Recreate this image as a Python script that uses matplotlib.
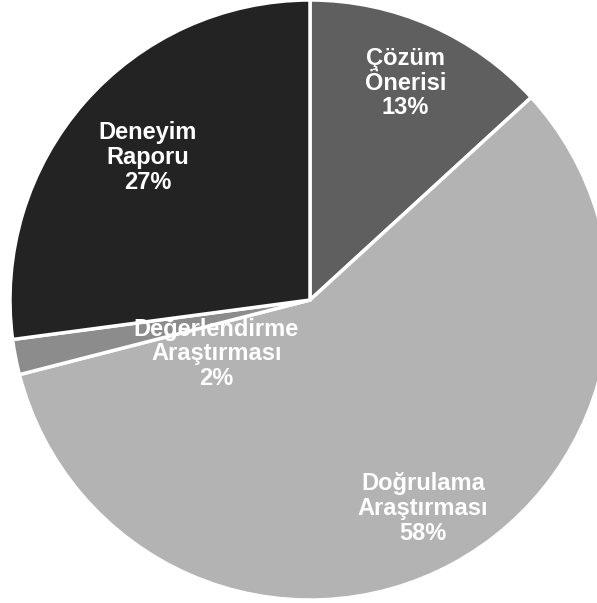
import numpy as np
import matplotlib
matplotlib.use("Agg")
import matplotlib.pyplot as plt

labels = ["Çözüm\nÖnerisi", "Doğrulama\nAraştırması", "Değerlendirme\nAraştırması", "Deneyim\nRaporu"]
values = [13.2, 57.8, 1.9, 27.1]
pct_labels = ["13%", "58%", "2%", "27%"]
colors = ["#5f5f5f", "#b3b3b3", "#8c8c8c", "#232323"]
label_r = [0.79, 0.79, 0.36, 0.72]
label_shift = [0, 0, 19, 0]  # degrees, nudge for small slice

fig = plt.figure(figsize=(5.97, 6.03), dpi=100)
ax = fig.add_axes([10 / 597, 3 / 603, 600 / 597, 600 / 603])
wedges, _ = ax.pie(values, colors=colors, startangle=90, counterclock=False,
                   wedgeprops=dict(edgecolor="white", linewidth=2.5))
ax.set_xlim(-1, 1)
ax.set_ylim(-1, 1)
ax.set_aspect("equal")
ax.axis("off")

for w, lab, pct, r, sh in zip(wedges, labels, pct_labels, label_r, label_shift):
    ang = np.deg2rad((w.theta1 + w.theta2) / 2 + sh)
    ax.text(r * np.cos(ang), r * np.sin(ang), lab + "\n" + pct,
            ha="center", va="center", color="white", fontsize=17,
            fontweight="bold", family=["Liberation Sans", "DejaVu Sans"],
            linespacing=1.1)

fig.savefig("out.png", dpi=100)
